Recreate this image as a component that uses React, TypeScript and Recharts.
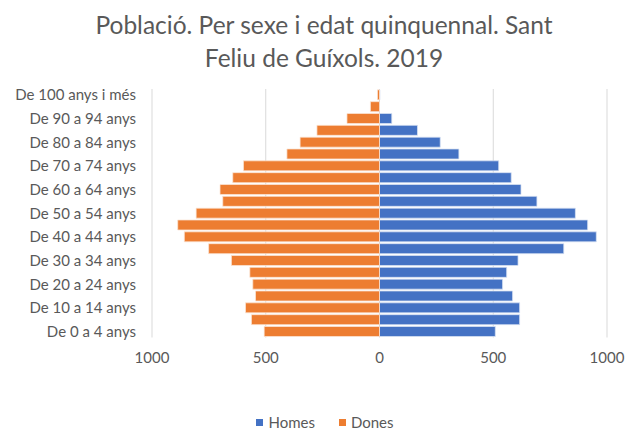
import React from 'react';
import { BarChart, Bar, XAxis, YAxis, CartesianGrid } from 'recharts';

const categories = [
  'De 100 anys i més', 'De 95 a 99 anys', 'De 90 a 94 anys', 'De 85 a 89 anys', 'De 80 a 84 anys',
  'De 75 a 79 anys', 'De 70 a 74 anys', 'De 65 a 69 anys', 'De 60 a 64 anys', 'De 55 a 59 anys',
  'De 50 a 54 anys', 'De 45 a 49 anys', 'De 40 a 44 anys', 'De 35 a 39 anys', 'De 30 a 34 anys',
  'De 25 a 29 anys', 'De 20 a 24 anys', 'De 15 a 19 anys', 'De 10 a 14 anys', 'De 5 a 9 anys',
  'De 0 a 4 anys',
];
const homes = [2, 0, 54, 167, 267, 349, 524, 579, 622, 692, 861, 915, 953, 810, 609, 559, 541, 585, 616, 616, 509];
const dones = [9, 40, 143, 275, 349, 407, 598, 645, 701, 689, 806, 887, 858, 751, 651, 570, 557, 545, 589, 563, 507];
const xTicks = [-1000, -500, 0, 500, 1000];
const titleLines = ['Població. Per sexe i edat quinquennal. Sant', 'Feliu de Guíxols. 2019'];
const seriesNames = ['Homes', 'Dones'];
const seriesColors = ['#4472C4', '#ED7D31'];

const data = categories.map((c, i) => ({ cat: c, Homes: homes[i], Dones: -dones[i] }));

const FONT = 'Lato, "Open Sans", sans-serif';
const GRAY = '#595959';

export default function App() {
  return (
    <div style={{ position: 'absolute', left: 0, top: 0, width: 625, height: 433, background: '#fff', fontFamily: FONT }}>
      <div style={{ position: 'absolute', left: 0, width: 648, top: 8, textAlign: 'center', fontSize: 24.5, lineHeight: '33px', color: GRAY }}>
        {titleLines.map((t) => (<div key={t}>{t}</div>))}
      </div>
      <BarChart
        width={625}
        height={433}
        data={data}
        layout="vertical"
        stackOffset="sign"
        barCategoryGap="7%"
        margin={{ top: 89, right: 18, bottom: 0, left: 0 }}
        style={{ position: 'absolute', left: 0, top: 0 }}
      >
        <CartesianGrid horizontal={false} stroke="#d9d9d9" />
        <XAxis
          type="number"
          domain={[-1000, 1000]}
          ticks={xTicks}
          tickFormatter={(v: number) => String(Math.abs(v))}
          axisLine={false}
          tickLine={false}
          tickSize={0}
          tickMargin={15}
          height={95.5}
          tick={{ fill: GRAY, fontSize: 15, fontFamily: FONT }}
        />
        <YAxis
          type="category"
          dataKey="cat"
          interval={1}
          width={152}
          axisLine={false}
          tickLine={false}
          tickSize={0}
          tickMargin={16}
          tick={{ fill: GRAY, fontSize: 15, fontFamily: FONT }}
        />
        <Bar dataKey="Homes" stackId="a" fill={seriesColors[0]} stroke="#dae3f3" strokeWidth={0.75} isAnimationActive={false} />
        <Bar dataKey="Dones" stackId="a" fill={seriesColors[1]} stroke="#fbe5d6" strokeWidth={0.75} isAnimationActive={false} />
      </BarChart>
      <div style={{ position: 'absolute', top: 413, left: 0, width: 650, display: 'flex', justifyContent: 'center', gap: 24, fontSize: 15, color: GRAY }}>
        {seriesNames.map((n, i) => (
          <div key={n} style={{ display: 'flex', alignItems: 'center', gap: 5 }}>
            <span style={{ display: 'inline-block', width: 7, height: 7, background: seriesColors[i] }} />
            <span>{n}</span>
          </div>
        ))}
      </div>
    </div>
  );
}
